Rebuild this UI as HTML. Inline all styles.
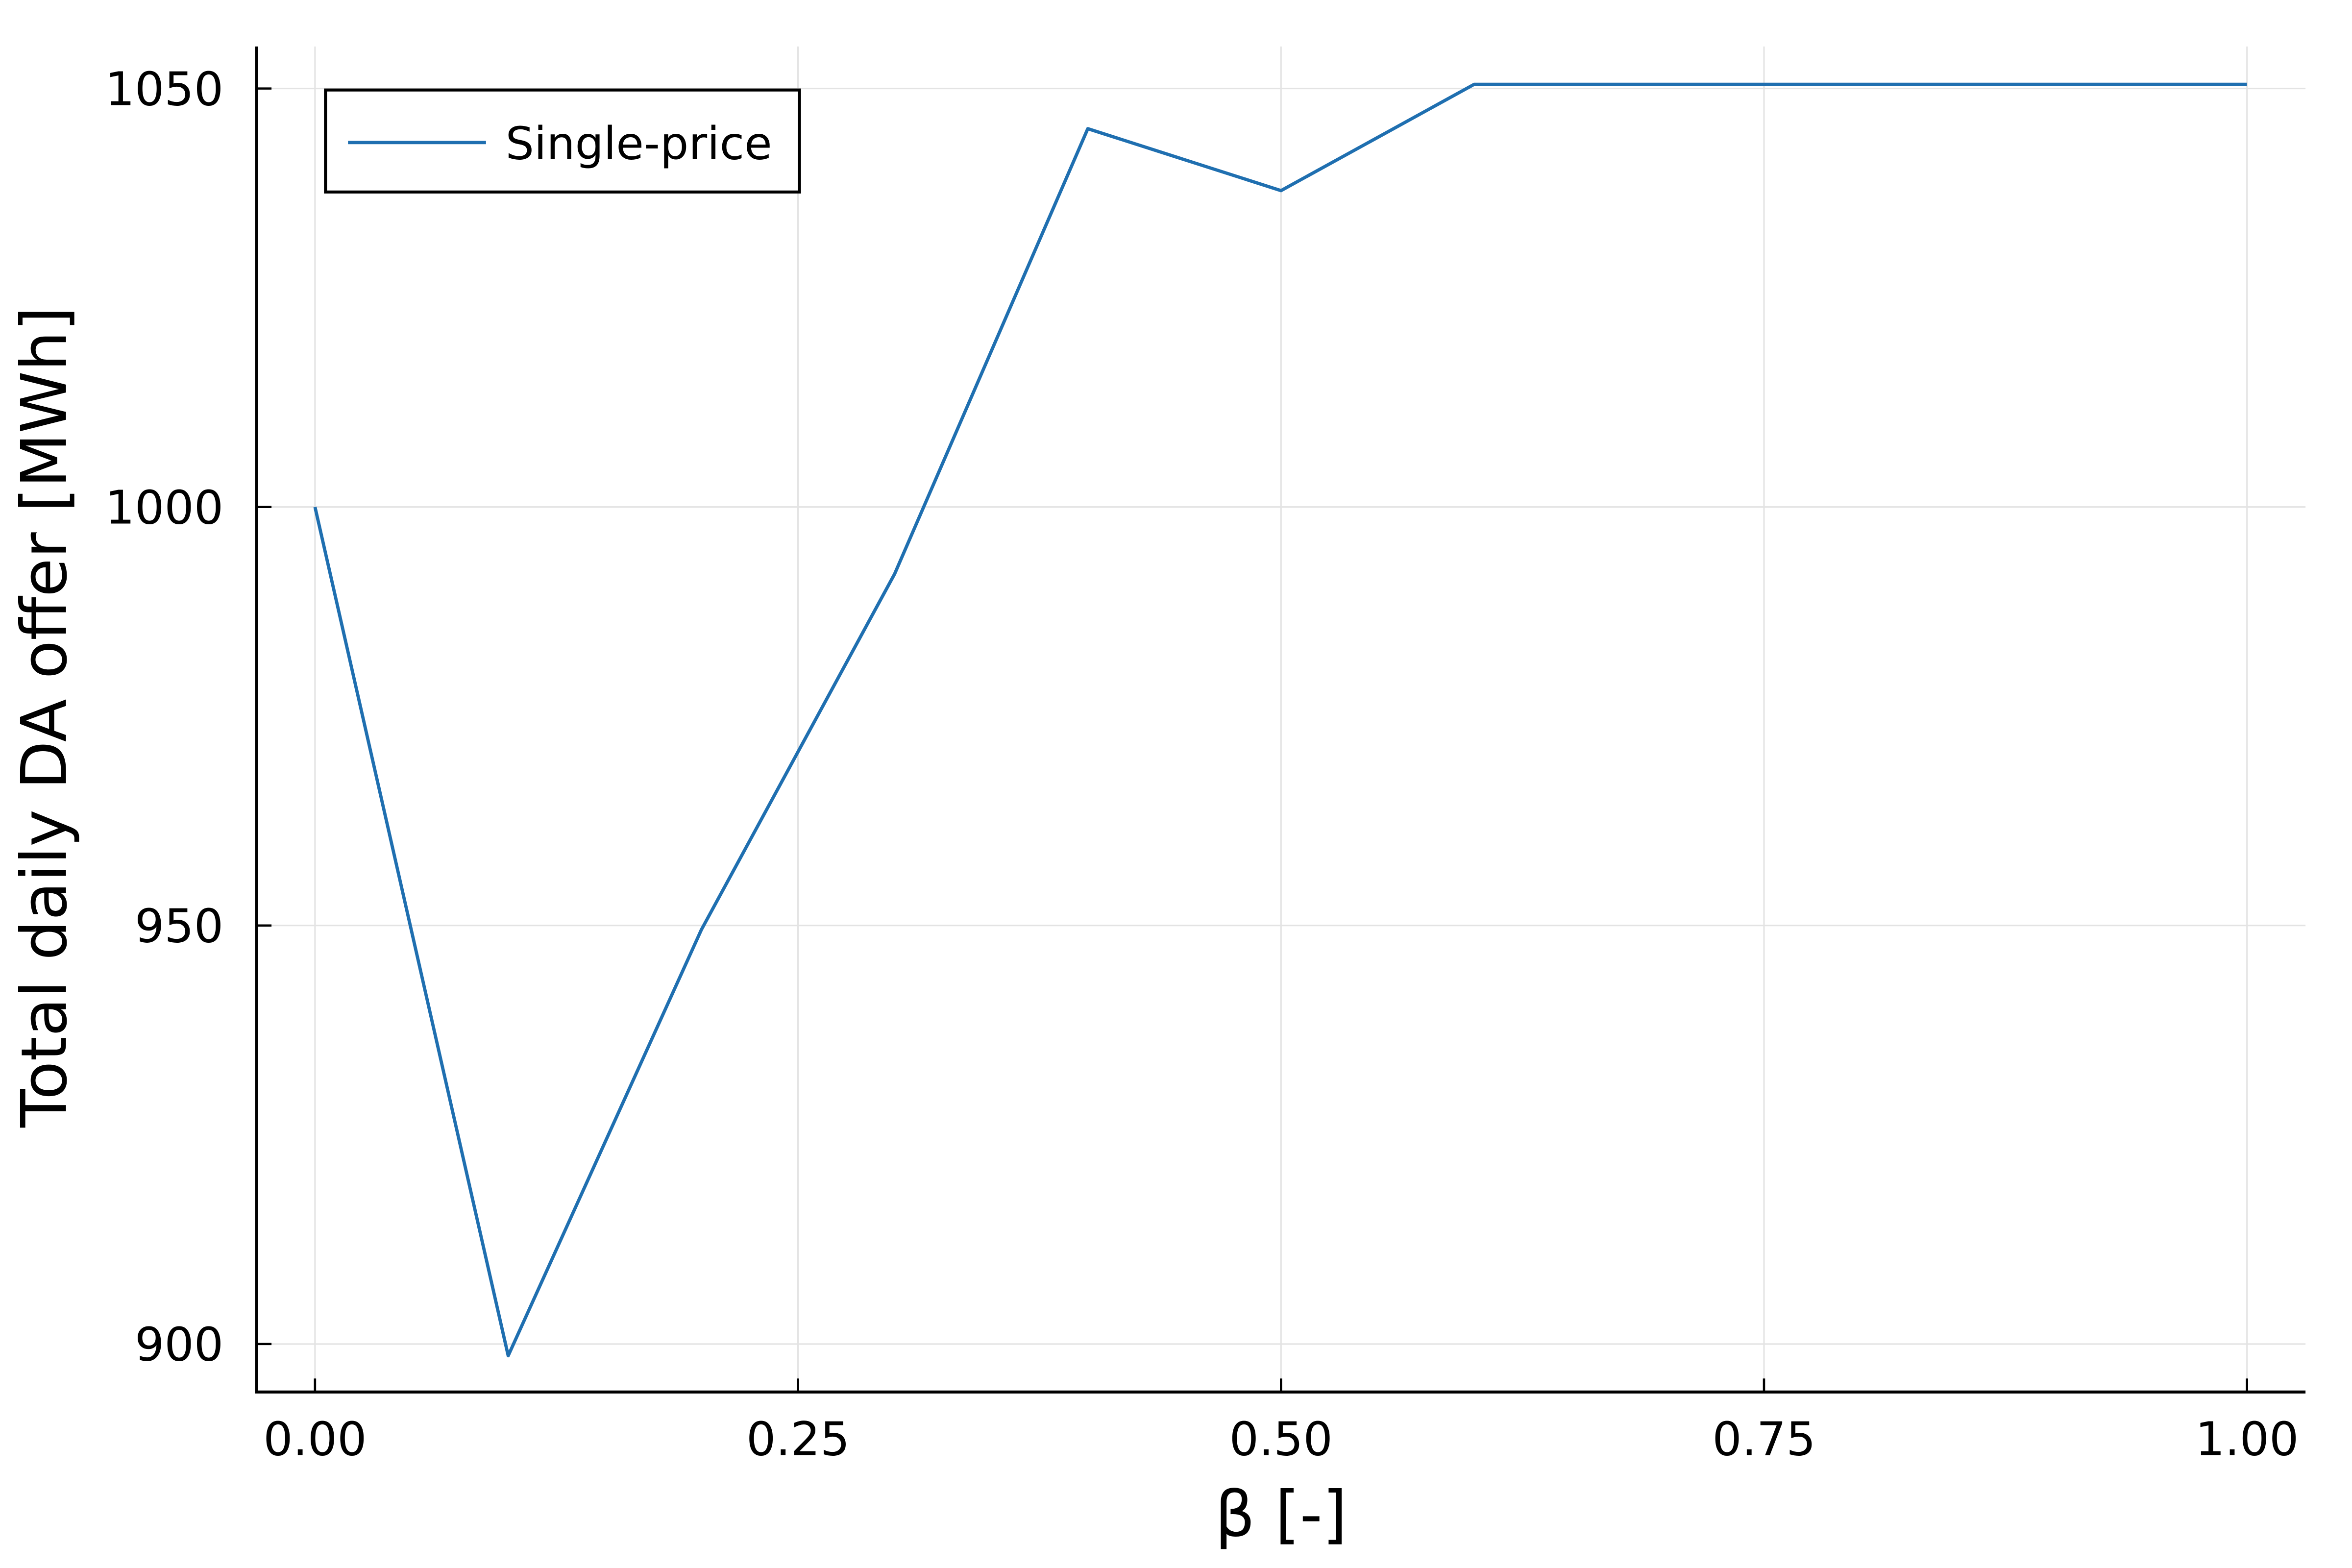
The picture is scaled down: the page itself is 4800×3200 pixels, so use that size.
<!DOCTYPE html>
<html><head><meta charset="utf-8"><style>
html,body{margin:0;padding:0;background:#fff}
svg{display:block}
text{font-family:"DejaVu Sans","Liberation Sans",sans-serif;fill:#000}
</style></head><body>
<svg id="chart" width="4800" height="3200" viewBox="0 0 1568 1045.33" xmlns="http://www.w3.org/2000/svg">
<rect width="1568" height="1045.33" fill="#fff"/>
<g id="grid"></g>
<g id="axes"></g>
<g id="series"></g>
<text transform="translate(44,478) rotate(-90)" text-anchor="middle" font-size="42">Total daily DA offer [MWh]</text>
<text x="854" y="1024" text-anchor="middle" font-size="42">β [-]</text>
<g>
<rect x="217" y="60" width="316" height="68" fill="#fff" stroke="#000" stroke-width="2"/>
<line x1="232" y1="95" x2="324" y2="95" stroke="#1f6fb0" stroke-width="2.2"/>
<text x="337" y="106" font-size="30">Single-price</text>
</g>
</svg>
<script>
const betas = [0,0.1,0.2,0.3,0.4,0.5,0.6,0.7,0.8,0.9,1.0];
const offers = [1000,898.6,949.5,992,1045.2,1037.8,1050.5,1050.5,1050.5,1050.5,1050.5];
const xTicks = [0,0.25,0.5,0.75,1.0];
const xTickLabels = ["0.00","0.25","0.50","0.75","1.00"];
const yTicks = [900,950,1000,1050];
const yTickLabels = ["900","950","1000","1050"];

const L=171,T=31,R=1537,B=928;
function xs(v){return 210+v*1288;}
function ys(v){return 896-(v-900)*279/50;}
const NS="http://www.w3.org/2000/svg";
function mk(tag,attrs,parent){const e=document.createElementNS(NS,tag);for(const k in attrs)e.setAttribute(k,attrs[k]);parent.appendChild(e);return e;}
const grid=document.getElementById('grid'),axes=document.getElementById('axes'),series=document.getElementById('series');
xTicks.forEach((t,i)=>{
  const g=mk('line',{x1:xs(t),x2:xs(t),y1:T,y2:B,stroke:'#e3e3e3','stroke-width':1},grid);
  
  
  const tk=mk('line',{x1:xs(t),x2:xs(t),y1:B,y2:B-9,stroke:'#000','stroke-width':1.5},axes);
  
  
  const lb=mk('text',{x:xs(t),y:970,'text-anchor':'middle','font-size':31},axes);
  lb.textContent=xTickLabels[i];
  
  
});
yTicks.forEach((t,i)=>{
  const g=mk('line',{x1:L,x2:R,y1:ys(t),y2:ys(t),stroke:'#e3e3e3','stroke-width':1},grid);
  
  
  const tk=mk('line',{x1:L,x2:L+10,y1:ys(t),y2:ys(t),stroke:'#000','stroke-width':1.5},axes);
  
  
  const lb=mk('text',{x:149,y:ys(t)+11,'text-anchor':'end','font-size':31},axes);
  lb.textContent=yTickLabels[i];
  
  
});
const ax=mk('path',{d:`M${L},${T} L${L},${B} L${R},${B}`,fill:'none',stroke:'#000','stroke-width':2},axes);


const pts=betas.map((b,i)=>xs(b)+','+ys(offers[i])).join(' ');
const pl=mk('polyline',{points:pts,fill:'none',stroke:'#1f6fb0','stroke-width':2.2,'stroke-linejoin':'round'},series);


</script>
</body></html>
